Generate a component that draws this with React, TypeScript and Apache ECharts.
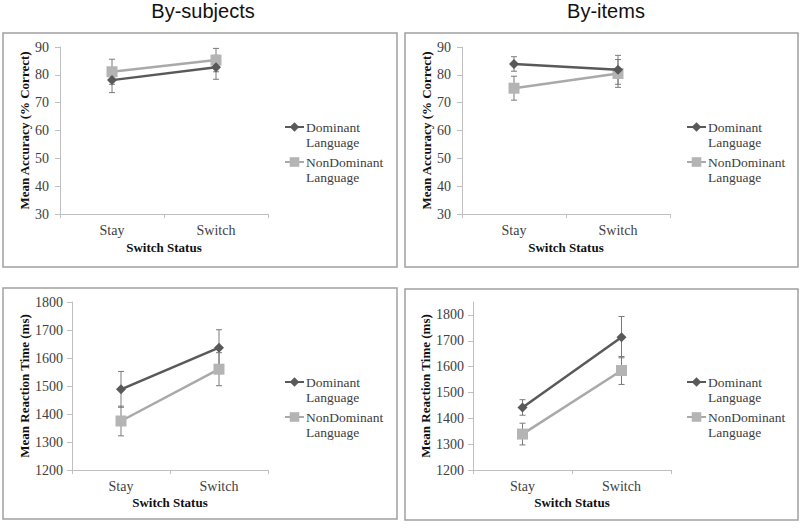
import React, { useEffect, useRef } from "react";
import * as echarts from "echarts";

const categories = ["Stay", "Switch"];
const seriesNames = ["Dominant", "NonDominant"];

// Accuracy (%), by subjects
const accSubjDom = [78.1, 82.7];
const accSubjDomErr = [4.5, 4.3];
const accSubjNon = [81.1, 85.3];
const accSubjNonErr = [4.5, 4.2];
// Accuracy (%), by items
const accItemDom = [83.9, 81.8];
const accItemDomErr = [2.6, 5.2];
const accItemNon = [75.2, 80.5];
const accItemNonErr = [4.3, 5.0];
// Reaction time (ms), by subjects
const rtSubjDom = [1488, 1637];
const rtSubjDomErr = [64, 64];
const rtSubjNon = [1375, 1560];
const rtSubjNonErr = [53, 59];
// Reaction time (ms), by items
const rtItemDom = [1442, 1714];
const rtItemDomErr = [30, 80];
const rtItemNon = [1339, 1585];
const rtItemNonErr = [42, 54];

const titles = ["By-subjects", "By-items"];
const yNames = ["Mean Accuracy (% Correct)", "Mean Reaction Time (ms)"];
const xName = "Switch Status";

const DARK = "#595959";
const LIGHT = "#a9a9a9";
const ERR = "#7a7a7a";
const SERIF = "Liberation Serif";

export default function App() {
  const ref = useRef<HTMLDivElement>(null);
  useEffect(() => {
    if (!ref.current) return;
    const chart = echarts.init(ref.current, null, { renderer: "svg" });

    const panels = [
      { grid: { left: 60, top: 47, width: 208, height: 167 }, min: 30, max: 90, interval: 10, yName: yNames[0], nameGap: 28, labelMargin: 11, xGap: 27, dom: accSubjDom, domErr: accSubjDomErr, non: accSubjNon, nonErr: accSubjNonErr, legendX: 285, legendY: 127 },
      { grid: { left: 462, top: 47, width: 208, height: 167 }, min: 30, max: 90, interval: 10, yName: yNames[0], nameGap: 28, labelMargin: 11, xGap: 27, dom: accItemDom, domErr: accItemDomErr, non: accItemNon, nonErr: accItemNonErr, legendX: 687, legendY: 127 },
      { grid: { left: 72, top: 302, width: 196, height: 168 }, min: 1200, max: 1800, interval: 100, yName: yNames[1], nameGap: 38, labelMargin: 9, xGap: 26, dom: rtSubjDom, domErr: rtSubjDomErr, non: rtSubjNon, nonErr: rtSubjNonErr, legendX: 285, legendY: 382 },
      { grid: { left: 473, top: 302, width: 198, height: 168 }, min: 1200, max: 1850, interval: 100, yName: yNames[1], nameGap: 39, labelMargin: 9, xGap: 26, dom: rtItemDom, domErr: rtItemDomErr, non: rtItemNon, nonErr: rtItemNonErr, legendX: 687, legendY: 382 },
    ];

    const errRender = (color: string) => (params: any, api: any) => {
      const x = api.value(0);
      const lo = api.coord([x, api.value(1)]);
      const hi = api.coord([x, api.value(2)]);
      const w = 3;
      const style = { stroke: color, lineWidth: 1 };
      return {
        type: "group",
        children: [
          { type: "line", shape: { x1: lo[0], y1: lo[1], x2: hi[0], y2: hi[1] }, style },
          { type: "line", shape: { x1: lo[0] - w, y1: lo[1], x2: lo[0] + w, y2: lo[1] }, style },
          { type: "line", shape: { x1: hi[0] - w, y1: hi[1], x2: hi[0] + w, y2: hi[1] }, style },
        ],
      };
    };

    const grids: any[] = [];
    const xAxes: any[] = [];
    const yAxes: any[] = [];
    const series: any[] = [];
    const legends: any[] = [];

    panels.forEach((p, i) => {
      grids.push({ ...p.grid, containLabel: false });
      xAxes.push({
        type: "category",
        gridIndex: i,
        data: categories,
        boundaryGap: true,
        name: xName,
        nameLocation: "middle",
        nameGap: p.xGap,
        nameTextStyle: { fontFamily: SERIF, fontWeight: "bold", fontSize: 13, color: "#111" },
        axisLine: { lineStyle: { color: "#bfbfbf", width: 1 } },
        axisTick: { show: true, inside: false, length: 4, lineStyle: { color: "#bfbfbf" } },
        axisLabel: { fontFamily: SERIF, fontSize: 14, color: "#404040", margin: 9 },
        splitLine: { show: false },
      });
      yAxes.push({
        type: "value",
        gridIndex: i,
        min: p.min,
        max: p.max,
        interval: p.interval,
        name: p.yName,
        nameLocation: "middle",
        nameGap: p.nameGap,
        nameRotate: 90,
        nameTextStyle: { fontFamily: SERIF, fontWeight: "bold", fontSize: 13, color: "#111" },
        axisLine: { show: true, lineStyle: { color: "#bfbfbf", width: 1 } },
        axisTick: { show: true, inside: false, length: 5, lineStyle: { color: "#bfbfbf" } },
        axisLabel: {
          fontFamily: SERIF,
          fontSize: 14,
          color: "#404040",
          margin: p.labelMargin,
          showMaxLabel: p.max % p.interval === 0,
          formatter: (v: number) => String(v),
        },
        splitLine: { show: false },
      });
      const mk = (vals: number[], errs: number[]) => vals.map((v, k) => [k, v - errs[k], v + errs[k]]);
      series.push({
        type: "custom",
        xAxisIndex: i,
        yAxisIndex: i,
        data: mk(p.dom, p.domErr),
        encode: { x: 0, y: [1, 2] },
        renderItem: errRender(ERR),
        z: 1,
        silent: true,
      });
      series.push({
        type: "custom",
        xAxisIndex: i,
        yAxisIndex: i,
        data: mk(p.non, p.nonErr),
        encode: { x: 0, y: [1, 2] },
        renderItem: errRender(ERR),
        z: 1,
        silent: true,
      });
      series.push({
        name: seriesNames[0],
        type: "line",
        xAxisIndex: i,
        yAxisIndex: i,
        data: p.dom,
        symbol: "diamond",
        symbolSize: 10,
        lineStyle: { color: DARK, width: 2.5 },
        itemStyle: { color: DARK },
        z: 3,
      });
      series.push({
        name: seriesNames[1],
        type: "line",
        xAxisIndex: i,
        yAxisIndex: i,
        data: p.non,
        symbol: "rect",
        symbolSize: 11,
        lineStyle: { color: LIGHT, width: 2.5 },
        itemStyle: { color: "#b4b4b4" },
        z: 2,
      });
      seriesNames.forEach((nm, k) => {
        legends.push({
          data: [nm],
          left: p.legendX - 1,
          top: p.legendY + k * 35 - 22.5,
          padding: 0,
          itemWidth: 19,
          itemHeight: 12,
          itemGap: 3,
          formatter: " \n{name}\nLanguage",
          selectedMode: false,
          textStyle: { fontFamily: SERIF, fontSize: 13.5, color: "#404040", lineHeight: 15, padding: [0, 0, 0, -3] },
        });
      });
    });

    const border = (x: number, y: number, w: number, h: number) => ({
      type: "rect",
      shape: { x, y, width: w, height: h },
      style: { fill: "none", stroke: "#a0a0a0", lineWidth: 1.5 },
      silent: true,
    });

    chart.setOption({
      animation: false,
      backgroundColor: "#ffffff",
      title: [
        { text: titles[0], left: 198, top: -4, textAlign: "center", textStyle: { fontFamily: "Liberation Sans", fontSize: 20, fontWeight: "normal", color: "#111" } },
        { text: titles[1], left: 601, top: -4, textAlign: "center", textStyle: { fontFamily: "Liberation Sans", fontSize: 20, fontWeight: "normal", color: "#111" } },
      ],
      legend: legends,
      grid: grids,
      xAxis: xAxes,
      yAxis: yAxes,
      series,
      graphic: [border(3, 33, 394, 234), border(405, 33, 393, 234), border(3, 288, 394, 231), border(405, 289, 393, 231)],
    });
    return () => chart.dispose();
  }, []);
  return <div ref={ref} style={{ position: "fixed", left: 0, top: 0, width: 800, height: 528 }} />;
}
